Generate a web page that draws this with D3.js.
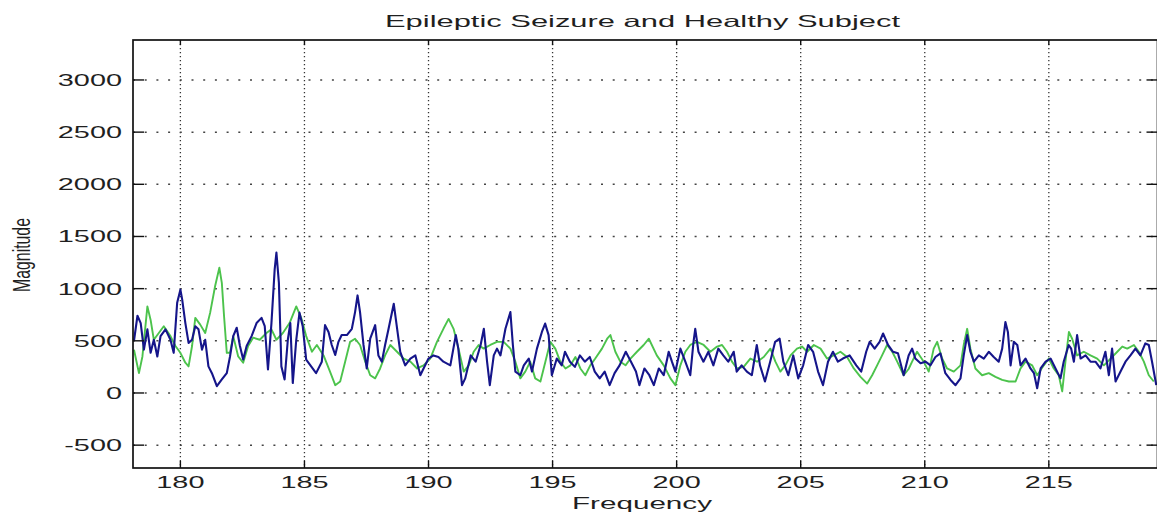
<!DOCTYPE html>
<html>

<head>
    <meta charset='utf-8' />
    <title>Epileptic Seizure and Healthy Subject</title>
    <script charset="utf-8" src="https://d3js.org/d3.v7.min.js"></script>
    <style>
        body {
            margin: 0;
            background: #fff;
            font-family: 'Liberation Sans', Arial, Helvetica, sans-serif;
        }

        svg text {
            fill: #1f1f1f;
        }
    </style>
</head>

<body>
    <div id="chartContainer"></div>
</body>

<script>
    // values (frequency, magnitude)
    var seizureFreq = [178.13, 178.27, 178.4, 178.53, 178.67, 178.8, 178.93, 179.07, 179.2, 179.4, 179.6, 179.73, 179.87, 180.0, 180.07, 180.2, 180.33, 180.47, 180.6, 180.73, 180.87, 181.0, 181.13, 181.27, 181.47, 181.67, 181.87, 182.0, 182.13, 182.27, 182.4, 182.53, 182.67, 182.87, 183.07, 183.27, 183.4, 183.53, 183.67, 183.8, 183.87, 183.97, 184.07, 184.2, 184.33, 184.43, 184.53, 184.67, 184.8, 184.93, 185.07, 185.27, 185.47, 185.7, 185.83, 185.97, 186.1, 186.24, 186.37, 186.5, 186.71, 186.91, 187.04, 187.14, 187.24, 187.38, 187.51, 187.65, 187.85, 187.98, 188.12, 188.25, 188.39, 188.6, 188.86, 189.06, 189.27, 189.47, 189.67, 189.8, 190.0, 190.2, 190.4, 190.6, 190.88, 191.1, 191.2, 191.35, 191.48, 191.7, 191.9, 192.1, 192.23, 192.36, 192.47, 192.63, 192.76, 192.9, 193.1, 193.3, 193.4, 193.5, 193.7, 193.84, 194.04, 194.17, 194.37, 194.57, 194.7, 194.84, 194.97, 195.17, 195.37, 195.5, 195.7, 195.9, 196.1, 196.3, 196.5, 196.7, 196.9, 197.1, 197.3, 197.5, 197.7, 197.95, 198.16, 198.36, 198.5, 198.7, 198.9, 199.08, 199.28, 199.48, 199.68, 199.81, 199.95, 200.15, 200.35, 200.55, 200.68, 200.75, 200.88, 201.08, 201.28, 201.48, 201.68, 201.88, 202.08, 202.3, 202.42, 202.62, 202.83, 203.03, 203.23, 203.36, 203.56, 203.77, 203.97, 204.15, 204.3, 204.5, 204.7, 204.9, 205.1, 205.3, 205.5, 205.7, 205.9, 206.1, 206.3, 206.5, 206.7, 206.97, 207.24, 207.44, 207.64, 207.78, 207.98, 208.18, 208.32, 208.52, 208.72, 208.92, 209.15, 209.35, 209.49, 209.62, 209.83, 210.03, 210.23, 210.43, 210.63, 210.83, 211.04, 211.24, 211.44, 211.57, 211.71, 211.84, 211.98, 212.18, 212.38, 212.58, 212.78, 212.98, 213.12, 213.25, 213.35, 213.46, 213.59, 213.73, 213.86, 214.06, 214.26, 214.4, 214.53, 214.67, 214.87, 215.07, 215.27, 215.47, 215.6, 215.8, 215.9, 216.01, 216.14, 216.28, 216.48, 216.68, 216.88, 217.08, 217.28, 217.42, 217.55, 217.69, 217.89, 218.09, 218.29, 218.49, 218.69, 218.89, 219.03, 219.16, 219.33]
    var seizureMag = [500, 740, 670, 415, 610, 385, 510, 350, 545, 610, 510, 385, 865, 990, 900, 670, 480, 510, 640, 610, 415, 510, 255, 190, 65, 130, 190, 350, 545, 625, 450, 320, 450, 545, 670, 720, 640, 225, 670, 1185, 1345, 1055, 255, 130, 510, 670, 95, 510, 770, 640, 320, 255, 190, 300, 650, 585, 460, 365, 490, 555, 555, 615, 775, 935, 775, 460, 235, 520, 650, 360, 300, 460, 615, 855, 395, 265, 330, 360, 170, 235, 330, 360, 345, 300, 265, 555, 425, 75, 140, 360, 300, 460, 615, 300, 75, 360, 425, 360, 615, 775, 460, 205, 170, 265, 330, 205, 425, 585, 665, 555, 170, 330, 265, 395, 300, 250, 360, 300, 345, 205, 140, 205, 75, 190, 265, 395, 300, 205, 75, 235, 170, 75, 235, 170, 395, 300, 205, 425, 300, 170, 490, 615, 395, 300, 395, 265, 425, 360, 300, 395, 205, 265, 205, 170, 460, 265, 110, 300, 490, 520, 300, 170, 360, 140, 265, 460, 395, 205, 75, 300, 395, 300, 330, 360, 265, 205, 395, 490, 425, 490, 570, 460, 395, 380, 170, 360, 425, 330, 285, 300, 265, 345, 380, 190, 125, 75, 140, 360, 555, 395, 300, 360, 330, 395, 345, 300, 425, 680, 585, 265, 490, 460, 265, 330, 235, 190, 45, 235, 300, 330, 235, 140, 300, 460, 425, 300, 555, 330, 360, 300, 300, 235, 395, 170, 425, 110, 205, 300, 360, 425, 360, 475, 460, 300, 75]

    var healthyFreq = [178.13, 178.33, 178.47, 178.67, 178.8, 178.93, 179.13, 179.33, 179.6, 179.8, 180.0, 180.2, 180.33, 180.47, 180.6, 180.8, 181.0, 181.2, 181.4, 181.57, 181.67, 181.76, 181.87, 182.0, 182.13, 182.33, 182.53, 182.73, 182.93, 183.2, 183.47, 183.67, 183.87, 184.13, 184.4, 184.67, 184.87, 185.07, 185.3, 185.5, 185.77, 186.03, 186.24, 186.44, 186.64, 186.84, 187.04, 187.24, 187.45, 187.65, 187.85, 188.05, 188.25, 188.46, 188.73, 189.0, 189.27, 189.54, 189.8, 190.07, 190.34, 190.6, 190.81, 191.01, 191.21, 191.42, 191.62, 191.82, 192.02, 192.22, 192.49, 192.76, 193.03, 193.3, 193.5, 193.7, 193.9, 194.1, 194.3, 194.51, 194.71, 194.91, 195.11, 195.31, 195.52, 195.72, 195.92, 196.12, 196.32, 196.52, 196.72, 196.99, 197.2, 197.33, 197.53, 197.73, 197.94, 198.14, 198.4, 198.67, 198.88, 199.2, 199.48, 199.75, 199.95, 200.15, 200.35, 200.55, 200.82, 201.09, 201.36, 201.63, 201.83, 202.03, 202.23, 202.43, 202.7, 202.97, 203.24, 203.51, 203.78, 203.98, 204.18, 204.38, 204.59, 204.85, 205.06, 205.26, 205.53, 205.8, 206.06, 206.33, 206.6, 206.87, 207.14, 207.41, 207.68, 207.88, 208.08, 208.28, 208.48, 208.69, 208.89, 209.15, 209.35, 209.49, 209.69, 209.96, 210.16, 210.36, 210.5, 210.7, 210.9, 211.17, 211.44, 211.57, 211.71, 211.84, 212.04, 212.31, 212.58, 212.85, 213.12, 213.39, 213.66, 213.86, 214.06, 214.33, 214.53, 214.8, 215.0, 215.2, 215.4, 215.54, 215.67, 215.81, 215.94, 216.14, 216.41, 216.68, 216.95, 217.22, 217.49, 217.76, 217.96, 218.16, 218.43, 218.63, 218.83, 219.03, 219.23]
    var healthyMag = [415, 190, 350, 830, 700, 510, 575, 640, 545, 450, 385, 290, 255, 450, 720, 655, 575, 770, 1025, 1200, 1055, 735, 385, 385, 545, 350, 290, 450, 530, 510, 575, 610, 510, 575, 670, 830, 720, 545, 395, 460, 360, 205, 75, 110, 300, 490, 520, 460, 300, 170, 140, 235, 360, 460, 395, 330, 300, 235, 265, 330, 490, 615, 710, 615, 425, 205, 265, 395, 460, 425, 460, 490, 490, 425, 300, 140, 205, 300, 140, 110, 300, 490, 425, 300, 235, 265, 345, 235, 170, 265, 330, 425, 520, 555, 395, 300, 265, 330, 395, 460, 520, 360, 265, 140, 75, 265, 395, 460, 490, 460, 395, 445, 460, 395, 300, 235, 250, 330, 300, 345, 425, 300, 205, 265, 360, 425, 445, 395, 460, 425, 330, 360, 395, 345, 235, 155, 90, 170, 265, 360, 460, 395, 300, 170, 230, 300, 395, 300, 205, 425, 490, 330, 235, 205, 265, 460, 615, 425, 235, 170, 190, 155, 125, 110, 110, 235, 300, 265, 170, 265, 330, 235, 170, 15, 300, 585, 520, 360, 395, 360, 330, 265, 330, 395, 445, 425, 460, 395, 300, 170, 110]

    var xTicks = [180, 185, 190, 195, 200, 205, 210, 215]
    var yTicks = [-500, 0, 500, 1000, 1500, 2000, 2500, 3000]

    var width = 1157
    var height = 517
    // axes box in pixels (note: "top" is a reserved window property, so use other names)
    var boxLeft = 133, boxTop = 40, boxRight = 1157.5, boxBottom = 468
    var stretch = 1.75   // the source figure is squashed horizontally, text looks wide

    var svg = d3.select("#chartContainer").append("svg")
        .attr("width", width)
        .attr("height", height)

    var x = d3.scaleLinear().domain([178.09, 219.38]).range([boxLeft, boxRight])
    var y = d3.scaleLinear().domain([-719, 3383]).range([boxBottom, boxTop])

    // dotted grid
    svg.append("g").selectAll("line")
        .data(xTicks)
        .enter()
        .append("line")
        .attr("x1", function (d) { return x(d) })
        .attr("x2", function (d) { return x(d) })
        .attr("y1", boxTop)
        .attr("y2", boxBottom)
        .attr("stroke", "#333")
        .attr("stroke-width", 1.3)
        .attr("stroke-dasharray", "1.3,2.7")

    svg.append("g").selectAll("line")
        .data(yTicks)
        .enter()
        .append("line")
        .attr("x1", boxLeft)
        .attr("x2", boxRight)
        .attr("y1", function (d) { return y(d) })
        .attr("y2", function (d) { return y(d) })
        .attr("stroke", "#444")
        .attr("stroke-width", 1.5)
        .attr("stroke-dasharray", "2,9.7")

    // the two spectra, clipped to the axes box
    svg.append("clipPath").attr("id", "plotClip")
        .append("rect")
        .attr("x", boxLeft).attr("y", boxTop)
        .attr("width", boxRight - boxLeft).attr("height", boxBottom - boxTop)

    var line = d3.line()
        .x(function (d) { return x(d[0]) })
        .y(function (d) { return y(d[1]) })

    var healthy = healthyFreq.map(function (f, i) { return [f, healthyMag[i]] })
    var seizure = seizureFreq.map(function (f, i) { return [f, seizureMag[i]] })

    var plot = svg.append("g").attr("clip-path", "url(#plotClip)")
    plot.append("path")
        .datum(healthy)
        .attr("d", line)
        .attr("fill", "none")
        .attr("stroke", "#4cc34c")
        .attr("stroke-width", 1.9)
        .attr("stroke-linejoin", "round")
    plot.append("path")
        .datum(seizure)
        .attr("d", line)
        .attr("fill", "none")
        .attr("stroke", "#15158a")
        .attr("stroke-width", 2.1)
        .attr("stroke-linejoin", "round")

    // axes box and ticks (matlab style, ticks pointing inwards)
    svg.append("rect")
        .attr("x", boxLeft).attr("y", boxTop)
        .attr("width", boxRight - boxLeft).attr("height", boxBottom - boxTop)
        .attr("fill", "none")
        .attr("stroke", "#111")
        .attr("stroke-width", 1.7)

    var ticks = svg.append("g").attr("stroke", "#111").attr("stroke-width", 1.4)
    xTicks.forEach(function (d) {
        ticks.append("line").attr("x1", x(d)).attr("x2", x(d)).attr("y1", boxBottom).attr("y2", boxBottom - 7)
        ticks.append("line").attr("x1", x(d)).attr("x2", x(d)).attr("y1", boxTop).attr("y2", boxTop + 5)
    })
    yTicks.forEach(function (d) {
        ticks.append("line").attr("x1", boxLeft).attr("x2", boxLeft + 11).attr("y1", y(d)).attr("y2", y(d))
        ticks.append("line").attr("x1", boxRight - 11).attr("x2", boxRight).attr("y1", y(d)).attr("y2", y(d))
    })

    // wide looking text helper
    function wideText(px, py, str, size, anchor, sx) {
        return svg.append("text")
            .attr("transform", "translate(" + px + "," + py + ") scale(" + sx + ",1)")
            .attr("text-anchor", anchor)
            .style("font-size", size + "px")
            .text(str)
    }

    yTicks.forEach(function (d) {
        wideText(122, y(d) + 6, d, 16.5, "end", stretch)
    })
    xTicks.forEach(function (d) {
        wideText(x(d), 488, d, 16.5, "middle", stretch)
    })

    svg.append("text")
        .attr("x", 385)
        .attr("y", 26.5)
        .attr("textLength", 515)
        .attr("lengthAdjust", "spacingAndGlyphs")
        .style("font-size", "16.5px")
        .text("Epileptic Seizure and Healthy Subject")

    svg.append("text")
        .attr("x", 572)
        .attr("y", 509)
        .attr("textLength", 140)
        .attr("lengthAdjust", "spacingAndGlyphs")
        .style("font-size", "16.5px")
        .text("Frequency")

    svg.append("text")
        .attr("transform", "translate(30,255) scale(1.55,1) rotate(-90)")
        .attr("text-anchor", "middle")
        .attr("textLength", 74)
        .attr("lengthAdjust", "spacingAndGlyphs")
        .style("font-size", "15px")
        .text("Magnitude")
</script>

</html>
